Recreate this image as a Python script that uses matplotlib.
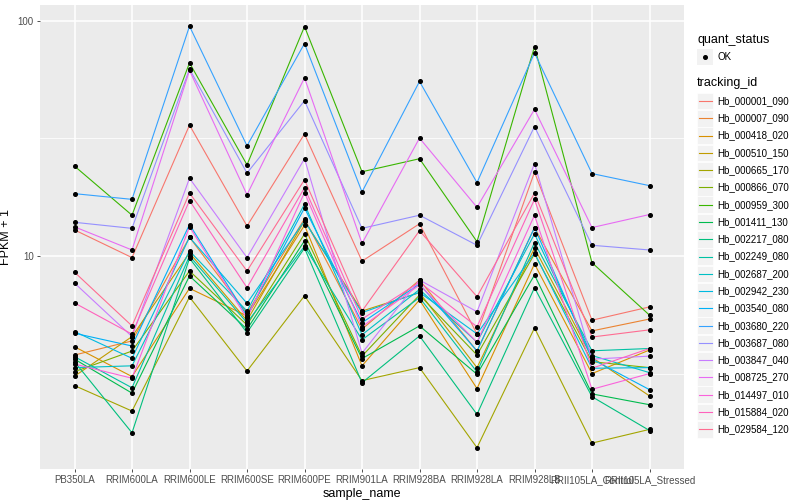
import matplotlib
matplotlib.use("Agg")
import matplotlib.pyplot as plt
from matplotlib.patches import Rectangle
from matplotlib.lines import Line2D
import numpy as np

plt.rcParams['font.family'] = ['Liberation Sans', 'DejaVu Sans']

samples = ["PB350LA", "RRIM600LA", "RRIM600LE", "RRIM600SE", "RRIM600PE",
           "RRIM901LA", "RRIM928BA", "RRIM928LA", "RRIM928LB",
           "RRII105LA_Control", "RRII105LA_Stressed"]

tracking_ids = ["Hb_000001_090", "Hb_000007_090", "Hb_000418_020", "Hb_000510_150",
                "Hb_000665_170", "Hb_000866_070", "Hb_000959_300", "Hb_001411_130",
                "Hb_002217_080", "Hb_002249_080", "Hb_002687_200", "Hb_002942_230",
                "Hb_003540_080", "Hb_003680_220", "Hb_003687_080", "Hb_003847_040",
                "Hb_008725_270", "Hb_014497_010", "Hb_015884_020", "Hb_029584_120"]

# FPKM + 1 values, one list per tracking_id, in sample order
Hb_000001_090 = [12.9, 9.84, 36.0, 13.4, 33.0, 9.5, 13.7, 4.66, 22.7, 5.33, 6.07]
Hb_000007_090 = [3.79, 4.35, 12.0, 5.7, 14.4, 4.88, 7.9, 3.94, 13.2, 4.8, 5.39]
Hb_000418_020 = [4.11, 3.07, 7.28, 5.56, 13.5, 3.41, 6.5, 2.73, 9.25, 3.16, 3.98]
Hb_000510_150 = [3.08, 4.54, 10.3, 5.31, 14.1, 5.83, 6.98, 3.35, 10.8, 3.7, 2.54]
Hb_000665_170 = [2.81, 2.19, 6.69, 3.24, 6.77, 2.95, 3.35, 1.53, 4.94, 1.6, 1.83]
Hb_000866_070 = [3.22, 3.94, 8.63, 5.09, 12.4, 3.75, 6.82, 3.79, 10.2, 3.55, 3.35]
Hb_000959_300 = [24.1, 14.9, 66.2, 24.4, 94.5, 22.8, 25.9, 11.5, 77.6, 9.36, 5.6]
Hb_001411_130 = [3.64, 2.61, 8.22, 4.88, 11.6, 3.66, 5.04, 3.14, 8.3, 2.59, 2.33]
Hb_002217_080 = [3.55, 1.77, 9.77, 4.72, 10.8, 2.89, 4.57, 2.12, 7.33, 2.52, 1.81]
Hb_002249_080 = [3.73, 2.75, 10.0, 5.2, 11.0, 4.4, 6.65, 3.21, 11.4, 3.95, 4.04]
Hb_002687_200 = [3.35, 3.41, 10.5, 5.83, 16.6, 4.62, 7.2, 4.3, 12.4, 3.77, 3.19]
Hb_002942_230 = [4.77, 3.67, 12.0, 6.29, 14.1, 5.74, 7.0, 4.66, 10.3, 3.33, 3.35]
Hb_003540_080 = [4.69, 4.14, 13.6, 5.56, 16.0, 5.2, 7.6, 3.94, 13.2, 3.64, 2.7]
Hb_003680_220 = [18.4, 17.4, 94.8, 29.4, 80.0, 18.7, 55.2, 20.5, 73.0, 22.4, 19.9]
Hb_003687_080 = [13.9, 13.1, 62.3, 22.5, 45.7, 13.1, 14.9, 11.1, 35.5, 11.1, 10.6]
Hb_003847_040 = [7.67, 4.54, 21.4, 9.84, 25.9, 3.86, 7.9, 5.79, 24.7, 3.64, 3.75]
Hb_008725_270 = [13.3, 10.6, 61.5, 18.2, 57.2, 11.3, 31.7, 16.1, 42.0, 13.2, 15.0]
Hb_014497_010 = [3.47, 3.02, 13.3, 5.43, 18.6, 5.0, 7.53, 4.3, 14.9, 2.71, 3.16]
Hb_015884_020 = [6.31, 4.65, 17.2, 7.33, 19.5, 5.39, 7.73, 5.0, 17.4, 3.33, 4.04]
Hb_029584_120 = [8.53, 5.04, 18.5, 8.63, 21.1, 5.83, 12.8, 6.71, 18.5, 4.52, 4.85]

colors = ["#F8766D", "#EA8331", "#D89000", "#C09B00", "#A3A500", "#7CAE00",
          "#39B600", "#00BB4E", "#00BF7D", "#00C1A3", "#00BFC4", "#00BAE0",
          "#00B0F6", "#35A2FF", "#9590FF", "#C77CFF", "#E76BF3", "#FA62DB",
          "#FF62BC", "#FF6C91"]

series = [Hb_000001_090, Hb_000007_090, Hb_000418_020, Hb_000510_150, Hb_000665_170,
          Hb_000866_070, Hb_000959_300, Hb_001411_130, Hb_002217_080, Hb_002249_080,
          Hb_002687_200, Hb_002942_230, Hb_003540_080, Hb_003680_220, Hb_003687_080,
          Hb_003847_040, Hb_008725_270, Hb_014497_010, Hb_015884_020, Hb_029584_120]

W, H = 800, 500
fig = plt.figure(figsize=(8, 5), dpi=100)
ax = fig.add_axes([40 / W, 31 / H, 644 / W, 464 / H])
ax.set_facecolor("#EBEBEB")
ax.set_yscale("log")
x = np.arange(len(samples))

for vals, c in zip(series, colors):
    ax.plot(x, vals, color=c, lw=0.8, zorder=3)
for vals in series:
    ax.plot(x, vals, ls="none", marker="o", ms=2.6, color="black", zorder=4)

ax.set_xlim(-0.6, len(samples) - 1 + 0.6)
ax.set_ylim(10 ** 0.094, 10 ** 2.067)
ax.set_xticks(x)
ax.set_xticklabels(samples)
ax.set_yticks([10, 100])
ax.set_yticklabels(["10", "100"])
ax.yaxis.set_minor_locator(matplotlib.ticker.FixedLocator([10 ** 0.5, 10 ** 1.5]))
ax.yaxis.set_minor_formatter(matplotlib.ticker.NullFormatter())
ax.grid(True, which="major", color="white", lw=1.1, zorder=1)
ax.grid(True, which="minor", axis="y", color="white", lw=0.55, zorder=1)
ax.set_axisbelow(True)
for s in ax.spines.values():
    s.set_visible(False)
ax.tick_params(axis="both", which="major", length=2.5, width=0.6, color="#333333",
               labelsize=7, labelcolor="#4D4D4D", pad=2)
ax.tick_params(axis="y", which="minor", length=0)
ax.set_xlabel("sample_name", fontsize=9, labelpad=2)
ax.set_ylabel("FPKM + 1", fontsize=9, labelpad=4)

# legends (drawn in pixel coordinates of the figure)
def fx(px):
    return px / W

def fy(py):
    return 1 - py / H

fig.text(fx(697), fy(40), "quant_status", fontsize=9, va="center", ha="left")
fig.patches.append(Rectangle((fx(697), fy(65)), 16 / W, 16 / H, transform=fig.transFigure,
                             facecolor="#F2F2F2", edgecolor="none"))
fig.lines.append(Line2D([fx(705)], [fy(57)], transform=fig.transFigure, marker="o",
                        ms=2.6, color="black", ls="none"))
fig.text(fx(717), fy(57), "OK", fontsize=7, va="center", ha="left")

fig.text(fx(697), fy(83), "tracking_id", fontsize=9, va="center", ha="left")
step = 17.28
for i, (tid, c) in enumerate(zip(tracking_ids, colors)):
    yc = 101 + i * step
    fig.patches.append(Rectangle((fx(697), fy(yc + 8.3)), 16 / W, 16.6 / H,
                                 transform=fig.transFigure, facecolor="#F2F2F2",
                                 edgecolor="white", lw=0.5))
    fig.lines.append(Line2D([fx(698.5), fx(711.5)], [fy(yc), fy(yc)],
                            transform=fig.transFigure, color=c, lw=0.8))
    fig.text(fx(717), fy(yc), tid, fontsize=7, va="center", ha="left")

fig.savefig("out.png", dpi=100)
